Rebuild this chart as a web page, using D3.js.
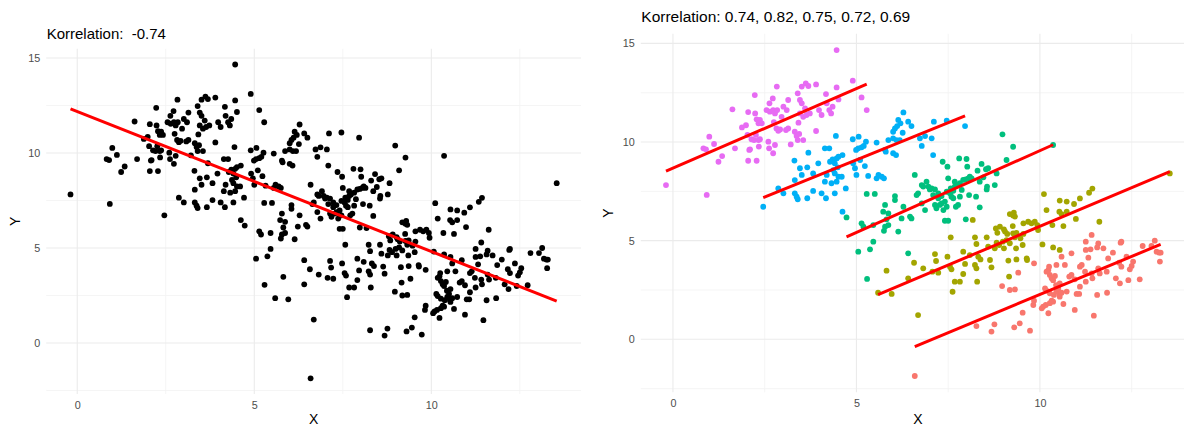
<!DOCTYPE html>
<html>
<head>
<meta charset="utf-8">
<script src="https://cdn.jsdelivr.net/npm/d3@7"></script>
<style>
  html, body { margin: 0; padding: 0; background: #fff; }
  svg { display: block; font-family: "Liberation Sans", Arial, sans-serif; }
</style>
</head>
<body>
<svg id="chart" width="1184" height="426"></svg>
<script>
// ---- data (x, y) per group ----
const group1 = [[6.59,-1.86],[8.27,0.67],[8.68,0.39],[8.76,0.76],[8.97,2.70],[9.18,2.50],[9.32,2.53],[9.30,0.61],[9.45,0.81],[9.53,1.35],[9.73,0.44],[9.41,3.38],[9.82,1.74],[9.84,1.96],[9.84,3.85],
[10.23,1.32],[10.09,1.66],[10.16,1.74],[10.05,1.57],[10.27,1.83],[10.36,1.91],[10.32,1.96],[10.64,1.79],[10.14,2.58],[10.18,2.47],[10.27,2.33],[10.38,2.25],[10.45,2.42],[10.50,2.58],[10.53,2.25],[10.54,2.16],[10.59,2.36],[10.44,2.75],[10.54,2.84],[10.23,3.51],[10.27,3.26],[10.32,3.09],[10.36,3.00],[10.18,3.43],[10.25,3.68],[10.41,3.21],[10.45,3.77],[10.59,4.19],[10.68,3.77],[10.86,4.36],[10.80,3.18],[10.86,3.26],[10.95,3.04],[10.73,2.42],[11.00,2.30],[11.07,2.30],[10.95,1.49],[11.09,3.68],[11.14,3.77],[11.09,2.67],[11.25,4.95],[11.25,4.53],[11.38,4.56],[11.41,5.29],[11.32,4.14],[11.23,3.43],[11.25,2.92],[11.41,3.34],[11.43,3.09],[11.59,3.60],[11.59,4.86],[11.56,4.66],[11.73,4.61],[11.63,3.34],[11.56,2.25],[11.47,1.20],[11.83,2.36],[11.86,4.10],[11.99,4.39],[12.07,3.09],[12.18,2.84],[12.16,3.88],[12.20,4.90],[12.22,4.95],[12.22,3.68],[12.36,4.19],[12.41,3.00],[12.50,3.72],[12.54,3.94],[12.45,3.55],[12.72,3.04],[12.80,4.73],[13.04,4.73],[13.13,5.00],[13.18,4.44],[13.25,4.39],[13.29,4.39],[13.27,3.94],[11.82,3.43]];

const group2 = [[5.59,2.36],[5.96,2.30],[5.82,3.48],[6.41,3.09],[6.68,1.23],[6.57,3.88],[6.82,3.60],[7.07,3.43],[7.23,3.38],[7.14,4.32],[7.17,3.97],[7.57,5.17],[7.48,4.19],[7.55,3.68],[7.59,3.55],[7.68,2.92],[7.82,2.92],[7.62,2.41],[7.91,4.44],[7.96,3.82],[7.91,3.31],[8.09,4.27],[8.17,6.05],[8.23,5.17],[8.27,4.83],[8.23,3.77],[8.27,3.60],[8.29,2.92],[8.32,4.19],[8.38,4.05],[8.55,5.17],[8.59,4.70],[8.64,4.02],[8.68,3.65],[8.77,4.61],[8.80,5.62],[8.84,5.40],[8.82,4.90],[8.89,4.78],
[13.54,8.41],[10.11,7.36],[10.54,7.03],[10.73,6.98],[10.93,6.86],[11.09,7.14],[11.34,7.43],[11.43,7.64],[10.18,6.55],[10.53,6.47],[10.59,6.35],[10.73,6.47],[10.98,6.10],[11.62,5.96],[10.64,5.74],[10.34,5.79],[10.07,4.81],[10.36,4.66],[10.54,4.53],[9.64,4.10],[9.65,4.02],[9.36,4.05],[9.14,3.99],[9.16,3.18],[9.18,6.35],[9.29,6.42],[9.55,5.88],[9.68,5.96],[9.77,5.88],[9.86,5.96],[9.93,5.79],[9.26,5.74],[9.05,5.46],[9.11,5.34],[9.27,5.37],[9.32,5.17],[9.47,5.12],[9.55,5.34],[8.99,4.95],[9.09,5.03],[9.18,4.87],[9.35,4.61],[9.02,4.61],[9.53,4.78],[9.95,5.54],[9.27,6.28],[9.32,6.22],[8.91,5.71],[9.02,5.57],[9.36,5.40]];

const group3 = [[5.28,7.37],[5.50,7.37],[4.73,6.18],
[8.98,10.39],[9.27,9.76],[10.36,9.85],[7.35,9.00],[7.48,8.75],[7.80,9.17],[8.00,9.14],[8.02,8.75],[8.41,8.89],[8.53,8.62],[8.59,8.67],[8.30,8.55],[9.09,9.09],[8.82,8.41],[8.77,7.82],[8.55,7.60],[8.56,7.74],[8.36,7.99],[8.46,8.21],[8.14,8.16],[8.09,8.24],[8.05,8.16],[7.98,8.11],[7.91,8.08],[7.82,7.91],[7.73,7.82],[7.68,7.99],[7.50,8.16],[7.57,7.65],[7.64,7.53],[7.68,7.74],[7.46,7.48],[7.55,7.40],[7.59,7.23],[7.64,7.15],[7.82,7.23],[7.87,7.57],[8.07,7.31],[8.26,7.23],[7.71,6.72],[7.77,6.81],[8.36,6.69],[7.23,7.15],[7.27,6.81],[7.32,6.89],[7.14,6.81],[7.18,6.64],[7.41,6.98],[7.46,6.72],[7.37,6.55],[7.09,7.31],[7.23,7.40],[7.32,7.26],[6.91,7.99],[6.96,7.74],[7.00,7.60],[7.05,7.65],[7.14,7.60],[6.82,7.74],[6.78,7.82],[6.68,7.40],[6.64,7.31],[6.78,6.89],[6.87,6.55],[6.59,8.33],[6.05,7.26],[6.05,7.06],[5.78,6.81],[5.73,6.47],[5.87,6.38],[6.28,6.72],
[5.82,6.08],[5.87,5.79],[5.78,5.71],[5.75,5.50],[5.46,5.79],[5.14,5.88],[5.19,5.71],[5.46,4.95],[5.37,4.56],[6.41,4.36],[5.29,3.06],[6.23,6.13],[6.46,6.22],[7.41,6.01],[7.50,6.01],[7.98,6.08],[5.05,4.44],[6.14,5.46],[6.50,6.13]];

const group4 = [[2.46,6.72],[2.87,7.65],[3.01,7.40],[3.32,7.40],[3.37,7.23],[3.40,7.10],[3.66,7.15],[3.82,7.52],[4.05,7.40],[4.17,7.15],[4.41,7.40],[4.62,6.47],[3.32,8.07],[3.51,8.33],[3.31,9.06],[3.46,8.67],[3.66,8.72],[3.69,9.46],[3.96,8.92],[3.82,8.41],[4.14,9.68],[4.26,9.68],[4.28,9.00],[4.35,9.12],[4.41,8.92],[4.46,9.17],[4.51,9.26],[4.44,10.31],[4.49,8.72],[4.37,8.58],[4.41,8.41],[4.51,8.24],[4.32,7.91],[4.46,7.99],[4.60,8.24],[4.19,8.33],[4.14,7.99],[4.62,9.34],[4.90,10.14],[4.99,9.60],[5.05,9.68],[5.14,9.73],[5.20,9.80],[5.26,10.02],[5.06,10.27],[4.91,8.92],[4.96,8.67],[5.00,8.33],[5.23,8.78],[5.10,9.09],[5.32,8.28],[5.55,8.16],[5.60,8.33],[5.55,9.97],[4.71,7.65],
[6.28,11.50],[6.14,11.12],[6.20,10.95],[6.00,10.52],[6.05,10.69],[6.11,10.81],[6.26,10.47],[6.41,11.03],[6.50,10.81],[5.87,10.10],[6.00,10.19],[6.09,10.10],[6.18,10.10],[5.78,9.60],[5.80,9.51],[6.00,9.43],[6.08,9.34],[6.73,10.19],[6.87,10.30],[6.78,9.80],[7.05,10.19],[7.11,11.03],[7.46,11.08],[7.96,10.81],[7.09,9.34],[5.69,8.24],[5.75,8.16]];

const group5 = [[-0.19,7.82],[0.92,7.32],[0.83,9.68],[0.90,9.63],[0.99,10.27],[1.12,9.90],[1.24,9.00],[1.34,9.29],[1.62,11.66],[1.69,9.68],[1.88,10.74],[1.99,10.85],[2.05,11.52],[2.05,9.05],[2.23,12.38],[2.28,9.05],[2.03,10.36],[2.08,9.60],[2.14,10.14],[2.21,10.10],[2.26,10.36],[2.33,10.10],[2.37,10.14],[2.28,11.15],[2.33,10.95],[2.37,11.12],[2.24,11.45],[2.42,10.95],[2.34,9.77],[2.10,9.63],[2.60,10.02],[2.62,9.68],[2.78,9.85],[2.73,9.43],[2.75,11.01],[2.55,11.62],[2.64,11.54],[2.73,11.62],[2.78,11.45],[2.84,11.62],[2.63,11.96],[2.72,12.21],[2.83,12.81],[2.82,10.69],[2.92,10.64],[2.87,10.57],[2.96,11.28],[3.08,10.61],[3.14,10.69],[3.14,12.13],[3.10,11.62],[3.01,11.79],[3.21,9.88],[3.32,10.52],[3.37,10.31],[3.40,10.10],[3.55,10.10],[3.44,10.41],[3.40,12.47],[3.46,12.13],[3.51,12.81],[3.62,12.97],[3.69,12.84],[3.90,12.92],[3.46,11.45],[3.55,11.28],[3.42,10.98],[3.64,11.37],[3.73,11.45],[3.60,11.71],[3.51,11.96],[3.90,10.56],[3.98,11.62],[4.05,11.37],[4.17,12.43],[4.19,11.96],[4.26,11.62],[4.35,11.79],[4.31,11.45],[4.46,12.77],[4.51,12.16],[4.90,13.11],[5.14,12.26],[5.28,11.62],[4.46,14.66]];

const groups = [group1, group2, group3, group4, group5];
const groupColors = ["#F8766D", "#A3A500", "#00BF7D", "#00B0F6", "#E76BF3"];
const xTicks = [0, 5, 10];
const yTicks = [0, 5, 10, 15];
const xMinor = [2.5, 7.5, 12.5];
const yMinor = [-2.5, 2.5, 7.5, 12.5];
const titleLeft = "Korrelation:  -0.74";
const titleRight = "Korrelation: 0.74, 0.82, 0.75, 0.72, 0.69";
const xLabel = "X";
const yLabel = "Y";

// ---- helpers ----
const all = groups.flatMap((g, i) => g.map(d => ({x: d[0], y: d[1], g: i})));
function expanded(ext) { const s = ext[1] - ext[0]; return [ext[0] - 0.05 * s, ext[1] + 0.05 * s]; }
const xDom = expanded(d3.extent(all, d => d.x));
const yDom = expanded(d3.extent(all, d => d.y));

function linfit(pts) {
  const mx = d3.mean(pts, d => d.x), my = d3.mean(pts, d => d.y);
  let sxy = 0, sxx = 0;
  pts.forEach(d => { sxy += (d.x - mx) * (d.y - my); sxx += (d.x - mx) ** 2; });
  const b = sxy / sxx, a = my - b * mx;
  const ex = d3.extent(pts, d => d.x);
  return [{x: ex[0], y: a + b * ex[0]}, {x: ex[1], y: a + b * ex[1]}];
}

const svg = d3.select("#chart");

function panel(cfg) {
  const x = d3.scaleLinear().domain(xDom).range([cfg.left, cfg.right]);
  const y = d3.scaleLinear().domain(yDom).range([cfg.bottom, cfg.top]);
  const g = svg.append("g");

  // grid
  g.selectAll(".xminor").data(xMinor).join("line")
    .attr("x1", d => x(d)).attr("x2", d => x(d)).attr("y1", cfg.top).attr("y2", cfg.bottom)
    .attr("stroke", "#F2F2F2").attr("stroke-width", 0.8);
  g.selectAll(".yminor").data(yMinor).join("line")
    .attr("y1", d => y(d)).attr("y2", d => y(d)).attr("x1", cfg.left).attr("x2", cfg.right)
    .attr("stroke", "#F2F2F2").attr("stroke-width", 0.8);
  g.selectAll(".xmajor").data(xTicks).join("line")
    .attr("x1", d => x(d)).attr("x2", d => x(d)).attr("y1", cfg.top).attr("y2", cfg.bottom)
    .attr("stroke", "#EBEBEB").attr("stroke-width", 1.1);
  g.selectAll(".ymajor").data(yTicks).join("line")
    .attr("y1", d => y(d)).attr("y2", d => y(d)).attr("x1", cfg.left).attr("x2", cfg.right)
    .attr("stroke", "#EBEBEB").attr("stroke-width", 1.1);

  // axes (labels only)
  const xa = g.append("g").attr("transform", `translate(0,${cfg.bottom})`)
    .call(d3.axisBottom(x).tickValues(xTicks).tickSize(0).tickPadding(7).tickFormat(d3.format("d")));
  const ya = g.append("g").attr("transform", `translate(${cfg.left},0)`)
    .call(d3.axisLeft(y).tickValues(yTicks).tickSize(0).tickPadding(6).tickFormat(d3.format("d")));
  [xa, ya].forEach(a => {
    a.select(".domain").remove();
    a.selectAll("text").attr("fill", "#4D4D4D").style("font-size", "10.8px")
      .style("font-family", "'Liberation Sans', Arial, sans-serif");
  });

  // points
  g.selectAll("circle").data(all).join("circle")
    .attr("cx", d => x(d.x)).attr("cy", d => y(d.y)).attr("r", 2.9)
    .attr("fill", d => cfg.colored ? groupColors[d.g] : "#000");

  // regression lines
  const fits = cfg.colored ? groups.map((gr, i) => linfit(all.filter(d => d.g === i))) : [linfit(all)];
  g.selectAll(".fit").data(fits).join("line")
    .attr("x1", d => x(d[0].x)).attr("y1", d => y(d[0].y))
    .attr("x2", d => x(d[1].x)).attr("y2", d => y(d[1].y))
    .attr("stroke", "#FF0000").attr("stroke-width", 3);

  // titles
  g.append("text").attr("x", cfg.left + 0.5).attr("y", cfg.titleY)
    .attr("xml:space", "preserve").style("white-space", "pre")
    .style("font-size", cfg.titleSize).attr("fill", "#000").text(cfg.title);
  g.append("text").attr("x", (cfg.left + cfg.right) / 2).attr("y", 424)
    .attr("text-anchor", "middle").style("font-size", "14px").attr("fill", "#000").text(xLabel);
  g.append("text")
    .attr("transform", `translate(${cfg.yLabelX},${(cfg.top + cfg.bottom) / 2}) rotate(-90)`)
    .attr("text-anchor", "middle").style("font-size", "14px").attr("fill", "#000").text(yLabel);
}

panel({left: 46.2, right: 581, top: 48.8, bottom: 394, colored: false,
       title: titleLeft, titleY: 38.5, titleSize: "15px", yLabelX: 20});
panel({left: 640.8, right: 1195, top: 33.8, bottom: 392.3, colored: true,
       title: titleRight, titleY: 22, titleSize: "15.5px", yLabelX: 613});
</script>
</body>
</html>
